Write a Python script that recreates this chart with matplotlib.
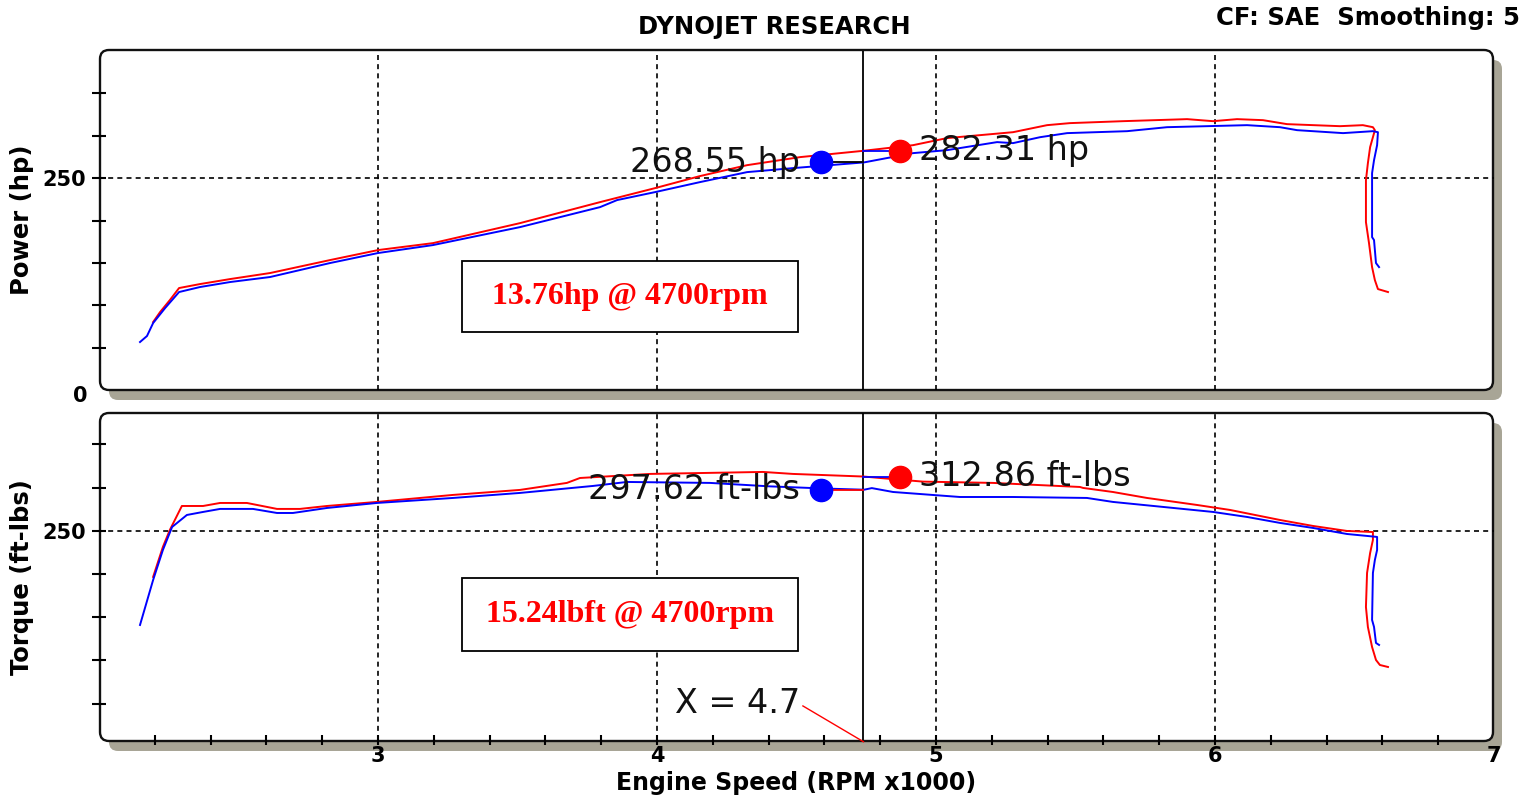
import matplotlib
matplotlib.use("Agg")
import matplotlib.pyplot as plt
from matplotlib.patches import FancyBboxPatch, Rectangle
from matplotlib.transforms import IdentityTransform

# ---------------- data (RPM x1000) ----------------
pow_blue_rpm = [2.147, 2.172, 2.194, 2.237, 2.287, 2.362, 2.470, 2.613, 2.828, 3.000,
                3.197, 3.509, 3.796, 3.857, 3.993, 4.154, 4.323, 4.487, 4.742, 4.918,
                5.039, 5.219, 5.276, 5.373, 5.470, 5.685, 5.828, 6.115, 6.233, 6.294,
                6.459, 6.566, 6.584, 6.581, 6.570, 6.563, 6.563, 6.570, 6.577, 6.588]
pow_blue_hp = [56.6, 63.7, 79.0, 96.7, 115.6, 121.5, 127.4, 133.3, 149.8, 161.6,
               171.0, 192.2, 215.8, 224.1, 233.5, 245.3, 257.1, 261.8, 268.55, 279.5,
               283.0, 292.5, 291.3, 298.3, 303.1, 305.4, 310.1, 312.5, 310.1, 306.6,
               303.1, 305.4, 304.2, 288.9, 271.2, 255.9, 180.4, 176.9, 149.8, 145.0]

pow_red_rpm = [2.194, 2.219, 2.254, 2.287, 2.362, 2.470, 2.613, 2.828, 3.000, 3.197,
               3.509, 3.796, 3.993, 4.154, 4.323, 4.513, 4.742, 4.918, 5.039, 5.276,
               5.398, 5.480, 5.670, 5.900, 5.993, 6.079, 6.172, 6.258, 6.448, 6.530,
               6.566, 6.573, 6.566, 6.556, 6.548, 6.541, 6.541, 6.552, 6.563, 6.573,
               6.584, 6.620]
pow_red_hp = [80.2, 92.0, 106.1, 120.3, 125.0, 130.9, 138.0, 153.3, 165.1, 173.3,
              196.9, 221.7, 238.2, 252.4, 265.3, 274.8, 282.31, 288.9, 297.2, 304.2,
              312.5, 314.9, 317.2, 319.6, 317.2, 319.6, 318.4, 313.7, 311.3, 312.5,
              310.1, 306.6, 298.3, 286.6, 267.7, 247.6, 198.1, 173.3, 145.0, 129.7,
              119.1, 115.6]

tq_blue_rpm = [2.147, 2.194, 2.229, 2.262, 2.315, 2.373, 2.434, 2.552, 2.638, 2.695,
               2.817, 2.996, 3.269, 3.509, 3.771, 3.892, 4.190, 4.405, 4.600, 4.742,
               4.770, 4.846, 5.086, 5.276, 5.541, 5.634, 5.814, 5.993, 6.115, 6.233,
               6.351, 6.473, 6.581, 6.581, 6.573, 6.566, 6.563, 6.570, 6.577, 6.588]
tq_blue_lb = [141.1, 193.2, 227.9, 254.5, 268.4, 271.9, 275.4, 275.4, 270.7, 270.7,
              276.5, 282.3, 288.1, 293.9, 302.0, 306.6, 305.5, 301.5, 299.0, 297.62,
              299.5, 295.0, 289.2, 289.2, 288.1, 283.5, 277.7, 271.9, 266.1, 259.2,
              253.4, 246.4, 243.0, 227.9, 216.3, 201.3, 146.9, 138.8, 120.3, 118.0]

tq_red_rpm = [2.194, 2.229, 2.254, 2.297, 2.373, 2.434, 2.530, 2.638, 2.720, 2.817,
              2.996, 3.269, 3.509, 3.677, 3.724, 3.975, 4.380, 4.487, 4.742, 4.799,
              4.953, 5.204, 5.516, 5.527, 5.634, 5.756, 5.935, 6.054, 6.233, 6.351,
              6.473, 6.566, 6.566, 6.556, 6.545, 6.541, 6.548, 6.563, 6.577, 6.591,
              6.620]
tq_red_lb = [196.7, 231.4, 251.1, 278.8, 278.8, 282.3, 282.3, 275.4, 275.4, 278.8,
             283.5, 291.6, 297.4, 305.5, 311.2, 315.9, 318.2, 315.9, 312.86, 311.2,
             307.0, 305.5, 300.8, 299.7, 295.0, 288.1, 280.0, 274.2, 262.6, 255.7,
             249.9, 248.7, 239.5, 224.4, 201.3, 161.9, 138.8, 115.6, 100.6, 94.8,
             92.5]

cursor_rpm = 4.74
cursor_label = "X = 4.7"
cursor_label_pos = (4.513, 50.2)
leader_start = (4.523, 47.4)
marker_rpm = [4.588, 4.871]          # blue, red marker positions
pow_values = [268.55, 282.31]
tq_values = [297.62, 312.86]
pow_labels = ["268.55 hp", "282.31 hp"]
tq_labels = ["297.62 ft-lbs", "312.86 ft-lbs"]
pow_box_text = "13.76hp @ 4700rpm"
tq_box_text = "15.24lbft @ 4700rpm"
major_x = [3, 4, 5, 6, 7]
minor_x = [2.2, 2.4, 2.6, 2.8, 3.2, 3.4, 3.6, 3.8, 4.2, 4.4, 4.6, 4.8,
           5.2, 5.4, 5.6, 5.8, 6.2, 6.4, 6.6, 6.8]
y_ticks = [50, 100, 150, 200, 250, 300, 350]

# ---------------- figure ----------------
W, H = 1538, 798
fig = plt.figure(figsize=(W / 100, H / 100), dpi=100)
fig.patch.set_facecolor("white")

BLUE = "#0000ff"
RED = "#ff0000"
SHADOW = "#a8a596"
BOLD = dict(family="DejaVu Sans", weight="bold")


def px_axes(left, top, right, bottom):
    return fig.add_axes([left / W, 1 - bottom / H, (right - left) / W, (bottom - top) / H])


def panel_frame(left, top, right, bottom):
    sh = FancyBboxPatch((left + 9, H - bottom - 10), right - left, bottom - top,
                        boxstyle="round,pad=0,rounding_size=9",
                        transform=IdentityTransform(), facecolor=SHADOW,
                        edgecolor="none", zorder=-3)
    fr = FancyBboxPatch((left, H - bottom), right - left, bottom - top,
                        boxstyle="round,pad=0,rounding_size=9",
                        transform=IdentityTransform(), facecolor="white",
                        edgecolor="#111111", linewidth=1.7, zorder=-2)
    fig.patches.extend([sh, fr])


panel_frame(100, 50, 1493, 390)
panel_frame(100, 413, 1493, 741)

ax1 = px_axes(99, 51, 1494, 390)
ax2 = px_axes(99, 413, 1494, 740)

for ax in (ax1, ax2):
    ax.set_facecolor("none")
    for s in ax.spines.values():
        s.set_visible(False)
    ax.set_xlim(2, 7)
    ax.set_yticks(y_ticks)
    ax.tick_params(axis="y", direction="inout", length=10, width=1.5, pad=4)
    ax.set_yticklabels(["" if v != 250 else "250" for v in y_ticks],
                       fontdict=dict(weight="bold", size=15))
    for gx in major_x[:-1]:
        ax.axvline(gx, color="black", lw=1.2, ls=(0, (3, 2.5)), zorder=1)
    ax.axhline(250, color="black", lw=1.2, ls=(0, (3, 2.5)), zorder=1)
    ax.axvline(cursor_rpm, color="black", lw=1.3, zorder=2)

ax1.set_ylim(0, 400)
ax2.set_ylim(8, 386.4)

ax1.tick_params(axis="x", bottom=False, labelbottom=False)
ax2.set_xticks(major_x)
ax2.set_xticks(minor_x, minor=True)
ax2.set_xticklabels([str(v) for v in major_x], fontdict=dict(weight="bold", size=15))
ax2.tick_params(axis="x", which="both", direction="inout", length=7, width=1.5, pad=1)
ax2.xaxis.get_major_ticks()[-1].tick1line.set_visible(False)

ax1.annotate("0", xy=(0, 0), xycoords=("axes fraction", "data"),
             xytext=(-8, -4), textcoords="offset points", ha="right", va="center",
             fontsize=15, **BOLD)

# ---------------- curves ----------------
ax1.plot(pow_red_rpm, pow_red_hp, color=RED, lw=1.4, zorder=3)
ax1.plot(pow_blue_rpm, pow_blue_hp, color=BLUE, lw=1.4, zorder=3)
ax2.plot(tq_red_rpm, tq_red_lb, color=RED, lw=1.4, zorder=3)
ax2.plot(tq_blue_rpm, tq_blue_lb, color=BLUE, lw=1.4, zorder=3)

# connectors + markers
ax1.plot([marker_rpm[0], cursor_rpm], [pow_values[0]] * 2, color="black", lw=1.3, zorder=4)
ax1.plot([cursor_rpm, marker_rpm[1]], [pow_values[1]] * 2, color=BLUE, lw=1.3, zorder=4)
ax2.plot([marker_rpm[0], cursor_rpm], [tq_values[0]] * 2, color=RED, lw=1.3, zorder=4)
ax2.plot([cursor_rpm, marker_rpm[1]], [tq_values[1]] * 2, color=BLUE, lw=1.3, zorder=4)

for ax, vals, labs in ((ax1, pow_values, pow_labels), (ax2, tq_values, tq_labels)):
    ax.plot([marker_rpm[0]], [vals[0]], "o", color=BLUE, ms=16, zorder=5)
    ax.plot([marker_rpm[1]], [vals[1]], "o", color=RED, ms=16, zorder=5)
    ax.annotate(labs[0], xy=(marker_rpm[0], vals[0]), xytext=(-15, 0),
                textcoords="offset points", ha="right", va="center",
                fontsize=24, family="DejaVu Sans", color="#111111", zorder=6)
    ax.annotate(labs[1], xy=(marker_rpm[1], vals[1]), xytext=(14, 0),
                textcoords="offset points", ha="left", va="center",
                fontsize=24, family="DejaVu Sans", color="#111111", zorder=6)

# cursor label with red leader
ax2.text(cursor_label_pos[0], cursor_label_pos[1], cursor_label, ha="right", va="center",
         fontsize=24, family="DejaVu Sans", color="#111111", zorder=6)
ax2.plot([leader_start[0], cursor_rpm], [leader_start[1], 6.0], color=RED, lw=1.0,
         clip_on=False, zorder=6)

# red info boxes
for ax, (y0, y1), txt in ((ax1, (68.4, 152.1), pow_box_text),
                          (ax2, (111.0, 195.5), tq_box_text)):
    ax.add_patch(Rectangle((3.301, y0), 4.505 - 3.301, y1 - y0, facecolor="white",
                           edgecolor="black", lw=1.3, zorder=6))
    ax.text((3.301 + 4.505) / 2, (y0 + y1) / 2, txt, ha="center", va="center",
            color=RED, fontsize=23, family="Liberation Serif", weight="bold", zorder=7)

# ---------------- figure texts ----------------
def ftext(x, y, s, **kw):
    fig.text(x / W, 1 - y / H, s, **kw)

ftext(774, 27, "DYNOJET RESEARCH", ha="center", va="center", fontsize=17.5, **BOLD)
ftext(1520, 18, "CF: SAE  Smoothing: 5", ha="right", va="center", fontsize=17.5, **BOLD)
ftext(796, 783, "Engine Speed (RPM x1000)", ha="center", va="center", fontsize=17, **BOLD)
ftext(22, 220, "Power (hp)", ha="center", va="center", rotation=90, fontsize=17.5, **BOLD)
ftext(22, 577, "Torque (ft-lbs)", ha="center", va="center", rotation=90, fontsize=17.5, **BOLD)

fig.savefig("out.png", dpi=100, facecolor="white")
